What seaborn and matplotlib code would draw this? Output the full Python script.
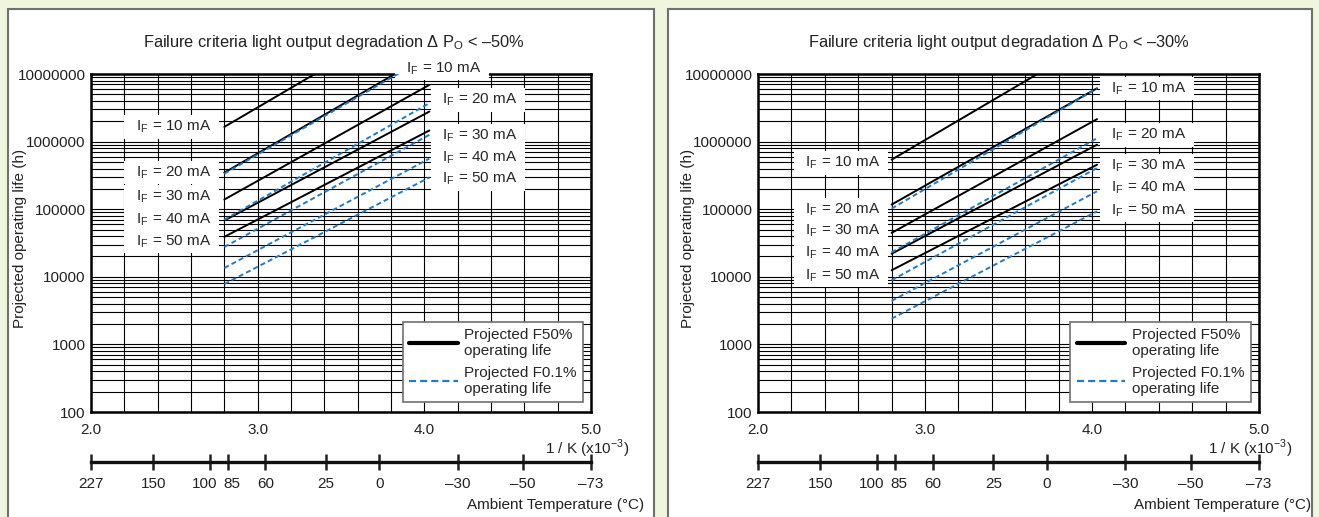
import numpy as np
import pandas as pd
import matplotlib
matplotlib.use("Agg")
import matplotlib.pyplot as plt
from matplotlib.lines import Line2D
from matplotlib.patches import Rectangle
from matplotlib.transforms import ScaledTranslation
from matplotlib.ticker import LogLocator, MultipleLocator, NullFormatter, NullLocator
import seaborn as sns

# 1/K (x10^-3) span of every projected line (85 degC ... about -25 degC)
inv_k = [2.8, 4.03]
currents = [10, 20, 30, 40, 50]

# projected operating life (h) at start / end of each line
left_f50_start = [1.65e6, 3.47e5, 1.39e5, 6.8e4, 3.9e4]
left_f50_end = [9.8e7, 1.97e7, 6.9e6, 2.78e6, 1.46e6]
left_f01_start = [3.35e5, 7.0e4, 2.76e4, 1.35e4, 7.8e3]
left_f01_end = [1.86e7, 3.7e6, 1.26e6, 5.6e5, 2.95e5]

right_f50_start = [5.4e5, 1.17e5, 4.46e4, 2.19e4, 1.25e4]
right_f50_end = [3.3e7, 6.15e6, 2.15e6, 9.0e5, 4.55e5]
right_f01_start = [1.02e5, 2.3e4, 8.9e3, 4.4e3, 2.4e3]
right_f01_end = [6.1e6, 1.12e6, 4.07e5, 1.84e5, 9.3e4]

criteria = ["–50%", "–30%"]
# ambient temperature scale, as printed under the 1/K axis (positions in 1/K x10^-3)
temp_pos = [2.0, 2.373, 2.712, 2.823, 3.046, 3.41, 3.73, 4.2, 4.59, 5.0]
temp_labels = ["227", "150", "100", "85", "60", "25", "0", "–30", "–50", "–73"]
life_ticks = [1e2, 1e3, 1e4, 1e5, 1e6, 1e7]
life_labels = ["100", "1000", "10000", "100000", "1000000", "10000000"]

BLUE = "#1f7cc6"

rows = []
panels = {
    "left": (left_f50_start, left_f50_end, left_f01_start, left_f01_end),
    "right": (right_f50_start, right_f50_end, right_f01_start, right_f01_end),
}
for panel, (s50, e50, s01, e01) in panels.items():
    for i, mA in enumerate(currents):
        for curve, s, e in (("F50", s50, e50), ("F0.1", s01, e01)):
            rows.append((panel, mA, curve, inv_k[0], s[i]))
            rows.append((panel, mA, curve, inv_k[1], e[i]))
df = pd.DataFrame(rows, columns=["panel", "current", "curve", "inv_k", "life"])

sns.set_theme(style="white")
plt.rcParams["font.family"] = ["Liberation Sans", "DejaVu Sans"]
plt.rcParams["mathtext.fontset"] = "custom"
plt.rcParams["mathtext.rm"] = "Liberation Sans"

fig = plt.figure(figsize=(13.19, 5.17), dpi=100, facecolor="#f0f5de")
W, H = 1319, 517

# white panel frames behind the axes
for x0, x1 in ((8, 654), (668, 1312)):
    fig.patches.append(Rectangle((x0 / W, -0.02), (x1 - x0) / W, 1 - 9 / H + 0.02,
                                 transform=fig.transFigure, fc="white", ec="#707070",
                                 lw=1.5, zorder=-5))

ax_l = fig.add_axes([91 / W, 1 - 412 / H, 500 / W, 338 / H])
ax_r = fig.add_axes([758 / W, 1 - 412 / H, 501 / W, 338 / H])


def if_label(ax, x, y, mA):
    ax.text(x, y, f"  I$_\\mathregular{{F}}$ = {mA} mA  ", ha="center", va="center",
            fontsize=11, zorder=3, clip_on=False,
            bbox=dict(boxstyle="square,pad=0.22", fc="white", ec="none"))


label_pos = {
    "left": dict(lx=2.483, ly=[1.65e6, 3.47e5, 1.53e5, 7.0e4, 3.3e4],
                 rx=[4.105, 4.32, 4.32, 4.32, 4.32], ry=[1.21e7, 4.14e6, 1.22e6, 5.7e5, 2.8e5],
                 tx=0.485, ylx=-0.142, kx=1.076, ax_=1.106),
    "right": dict(lx=2.497, ly=[4.8e5, 9.8e4, 4.8e4, 2.26e4, 1.05e4],
                  rx=[4.33] * 5, ry=[6.15e6, 1.26e6, 4.4e5, 2.06e5, 9.6e4],
                  tx=0.48, ylx=-0.14, kx=1.067, ax_=1.104),
}

for ax, panel, crit in ((ax_l, "left", criteria[0]), (ax_r, "right", criteria[1])):
    sub = df[df["panel"] == panel]
    sns.lineplot(data=sub, x="inv_k", y="life", hue="curve", style="curve",
                 units="current", estimator=None,
                 palette={"F50": "black", "F0.1": BLUE},
                 dashes={"F50": "", "F0.1": (2.6, 1.6)},
                 linewidth=1.4, legend=False, ax=ax, zorder=4)

    ax.set_yscale("log")
    ax.set_xlim(2.0, 5.0)
    ax.set_ylim(100, 1e7)
    ax.set_xticks([2, 3, 4, 5], ["2.0", "3.0", "4.0", "5.0"])
    ax.xaxis.set_minor_locator(MultipleLocator(0.2))
    ax.set_yticks(life_ticks, life_labels)
    ax.yaxis.set_minor_locator(LogLocator(base=10, subs=np.arange(2, 10), numticks=30))
    ax.yaxis.set_minor_formatter(NullFormatter())
    ax.grid(which="both", color="black", linewidth=0.8)
    ax.set_axisbelow(True)
    ax.tick_params(which="both", length=0, labelsize=11, colors="#222222")
    ax.tick_params(axis="x", pad=8)
    ax.tick_params(axis="y", pad=4)
    for sp in ax.spines.values():
        sp.set_color("black")
        sp.set_linewidth(1.8)
    ax.set_xlabel("")
    ax.set_ylabel("")

    p = label_pos[panel]
    ax.text(p["tx"], 1 + 32 / 338,
            f"Failure criteria light output degradation Δ P$_\\mathregular{{O}}$ < {crit}",
            transform=ax.transAxes, ha="center", va="center", fontsize=11.8, color="#222222")
    ax.text(p["ylx"], 0.513, "Projected operating life (h)", transform=ax.transAxes,
            rotation=90, ha="center", va="center", fontsize=11, color="#222222")
    ax.text(p["kx"], -0.108, "1 / K (x10$^{\\mathregular{-3}}$)", transform=ax.transAxes,
            ha="right", va="center", fontsize=11, color="#222222")
    ax.text(p["ax_"], -0.275, "Ambient Temperature (°C)", transform=ax.transAxes,
            ha="right", va="center", fontsize=11, color="#222222")

    for mA, y in zip(currents, p["ly"]):
        if_label(ax, p["lx"], y, mA)
    for mA, x, y in zip(currents, p["rx"], p["ry"]):
        if_label(ax, x, y, mA)

    # ambient temperature scale below the 1/K axis
    sec = ax.secondary_xaxis(-0.148)
    sec.set_xticks(temp_pos, temp_labels)
    sec.xaxis.set_minor_locator(NullLocator())
    sec.tick_params(direction="inout", length=11, width=1.8, pad=5, labelsize=11,
                    colors="#222222")
    sec.spines["bottom"].set_linewidth(2.4)
    sec.spines["bottom"].set_color("#111111")
    # "100" and "85" sit close together: nudge them apart a little
    for lab in sec.get_xticklabels():
        if lab.get_text() == "100":
            lab.set_transform(lab.get_transform() + ScaledTranslation(-3.5 / 72, 0, fig.dpi_scale_trans))
        elif lab.get_text() == "85":
            lab.set_transform(lab.get_transform() + ScaledTranslation(2.5 / 72, 0, fig.dpi_scale_trans))

    handles = [Line2D([], [], color="black", lw=3.0),
               Line2D([], [], color=BLUE, lw=1.6, dashes=(3.2, 1.8))]
    leg = ax.legend(handles, ["Projected F50%\noperating life", "Projected F0.1%\noperating life"],
                    loc="lower right", bbox_to_anchor=(0.984, 0.029), borderaxespad=0,
                    frameon=True, fancybox=False, edgecolor="#6f6f6f", framealpha=1,
                    fontsize=11, handlelength=3.2, handletextpad=0.45, labelspacing=0.5,
                    borderpad=0.4)
    leg.get_frame().set_linewidth(1.2)
    leg.set_zorder(6)

fig.savefig("out.png", dpi=100, facecolor=fig.get_facecolor())
